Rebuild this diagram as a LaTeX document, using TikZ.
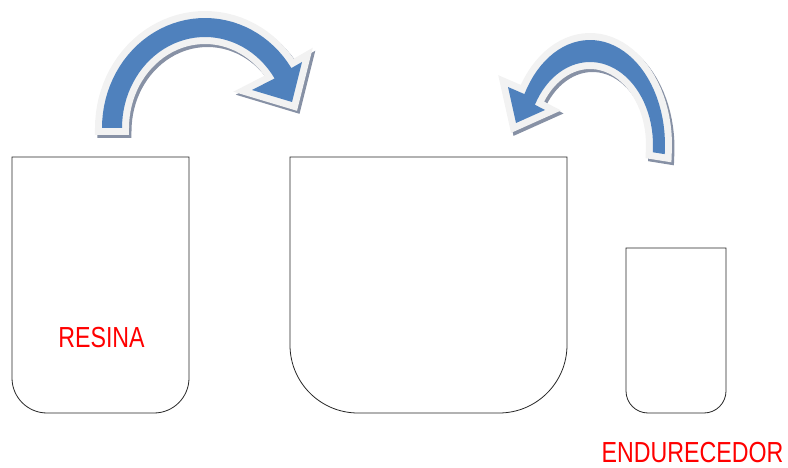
\documentclass[tikz,border=0pt]{standalone}
\usepackage{fontspec}
\newfontfamily\labelfont{Liberation Sans}
\usepackage{tikz}
\usetikzlibrary{calc,positioning}
\definecolor{arrowblue}{HTML}{4F81BD}
\definecolor{rimgray}{HTML}{F2F2F2}
\definecolor{shadowgray}{RGB}{135,145,165}
\tikzset{
  jar/.style={draw=black!85, line width=0.8pt},
  tag/.style={text=red, font=\labelfont\fontsize{29}{30}\selectfont, xscale=0.8, inner sep=0pt},
  bentarrow/.style={fill=arrowblue,
    preaction={draw=shadowgray, fill=shadowgray, line width=14pt, line join=miter,
      transform canvas={shift={(2.5pt,-3pt)}}},
    preaction={draw=rimgray, fill=rimgray, line width=14pt, line join=miter}}
}
\begin{document}
\begin{tikzpicture}[x=1pt,y=1pt]
\useasboundingbox (0,0) rectangle (788,-468);
% jars
\draw[jar] (12,-157) -- (12,-378) arc[start angle=180,end angle=270,radius=35pt] -- (154,-413) arc[start angle=270,end angle=360,radius=35pt] -- (189,-157) -- cycle;
\draw[jar] (290,-157) -- (290,-345) arc[start angle=180,end angle=270,radius=68pt] -- (499,-413) arc[start angle=270,end angle=360,radius=68pt] -- (567,-157) -- cycle;
\draw[jar] (626,-248) -- (626,-391) arc[start angle=180,end angle=270,radius=22pt] -- (704,-413) arc[start angle=270,end angle=360,radius=22pt] -- (726,-248) -- cycle;
% labels
\node[tag] (resina) at (101.5,-337.5) {RESINA};
\node[tag] (endurecedor) at (692.5,-453) {ENDURECEDOR};
% arrows
\fill[bentarrow] plot[domain=180:33, samples=40] ({205+103*cos(\x)},{-128+110*sin(\x)}) -- (302,-62) -- (292,-102) -- (252,-90)
  -- plot[domain=33:180, samples=40] ({205+83*cos(\x)},{-128+91*sin(\x)}) -- cycle;
\fill[bentarrow] plot[domain=-5:151, samples=40] ({590+75*cos(\x)},{-145+105*sin(\x)}) -- (508,-87) -- (516,-123) -- (545,-110)
  -- plot[domain=151:-5, samples=40] ({590+63*cos(\x)},{-145+83*sin(\x)}) -- cycle;
\end{tikzpicture}
\end{document}
